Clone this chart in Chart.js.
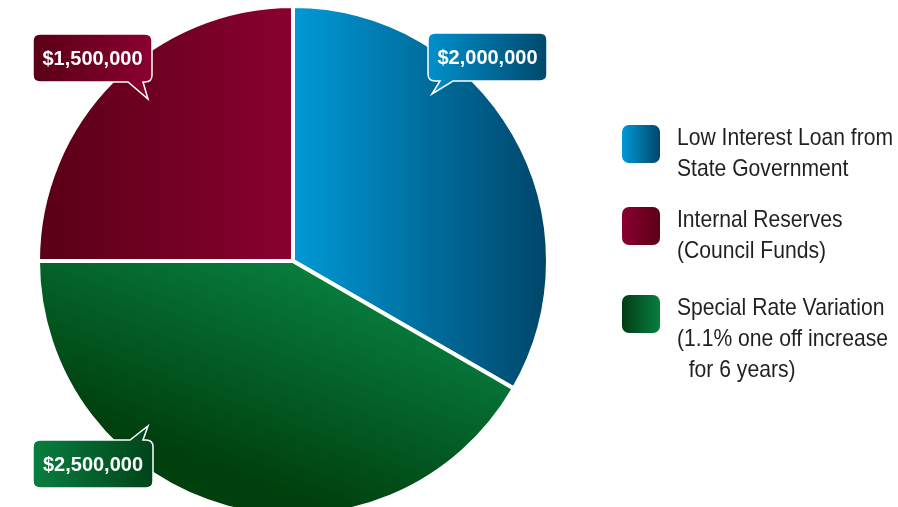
<!DOCTYPE html>
<html>
<head>
<meta charset="utf-8">
<script src="https://cdn.jsdelivr.net/npm/chart.js@4/dist/chart.umd.min.js"></script>
<style>
  body { margin: 0; background: #fff; overflow: hidden; }
  #wrap { position: relative; width: 898px; height: 522px; }
</style>
</head>
<body>
<div id="wrap"><canvas id="pie" width="898" height="522"></canvas></div>
<script>
// pie order, clockwise from 12 o'clock
const sources = ["Low Interest Loan from State Government", "Special Rate Variation (1.1% one off increase for 6 years)", "Internal Reserves (Council Funds)"]
const amounts = [2000000, 2500000, 1500000]
const valueLabels = ["$2,000,000", "$2,500,000", "$1,500,000"]

// legend reads blue, red, green
const legendOrder = [0, 2, 1]
const legendLines = [
    ["Low Interest Loan from", "State Government"],
    ["Special Rate Variation", "(1.1% one off increase", "  for 6 years)"],
    ["Internal Reserves", "(Council Funds)"]
]

// slice colours: [start, end]
const sliceColours = [["#0099d6", "#00466b"], ["#087f3f", "#00400f"], ["#5a0016", "#8a0030"]]
const swatchColours = [["#0099d6", "#00466b"], ["#003c12", "#087f3f"], ["#8a0030", "#5a0016"]]
const boxColours = [["#0090cc", "#00496c"], ["#087f3f", "#00441a"], ["#5a0016", "#8a0030"]]

function sliceGradient(context) {
    const chart = context.chart
    const area = chart.chartArea
    if (!area) return sliceColours[context.dataIndex][0]
    const c = chart.ctx
    const cx = (area.left + area.right) / 2
    const cy = (area.top + area.bottom) / 2
    const r = 253
    const cols = sliceColours[context.dataIndex]
    let g
    if (context.dataIndex == 0) g = c.createLinearGradient(cx, 0, cx + r, 0)
    else if (context.dataIndex == 2) g = c.createLinearGradient(cx - r, 0, cx, 0)
    else g = c.createLinearGradient(cx + 20, cy, cx - 60, cy + 210)
    g.addColorStop(0, cols[0])
    g.addColorStop(1, cols[1])
    return g
}

// callout boxes: box rect, tail base (x1,x2) on top/bottom edge, tail tip
const callouts = [
    { x: 428, y: 33, w: 119, h: 48, side: "bottom", t1: 440, t2: 453, tip: [432, 94] },
    { x: 33, y: 440, w: 120, h: 48, side: "top", t1: 130, t2: 143, tip: [148, 426] },
    { x: 33, y: 34, w: 119, h: 48, side: "bottom", t1: 128, t2: 143, tip: [148, 99] }
]

function calloutPath(c, b) {
    const r = 7
    const x = b.x, y = b.y, w = b.w, h = b.h
    c.beginPath()
    c.moveTo(x + r, y)
    if (b.side == "top") {
        c.lineTo(b.t1, y)
        c.lineTo(b.tip[0], b.tip[1])
        c.lineTo(b.t2, y)
    }
    c.lineTo(x + w - r, y)
    c.quadraticCurveTo(x + w, y, x + w, y + r)
    c.lineTo(x + w, y + h - r)
    c.quadraticCurveTo(x + w, y + h, x + w - r, y + h)
    if (b.side == "bottom") {
        c.lineTo(b.t2, y + h)
        c.lineTo(b.tip[0], b.tip[1])
        c.lineTo(b.t1, y + h)
    }
    c.lineTo(x + r, y + h)
    c.quadraticCurveTo(x, y + h, x, y + h - r)
    c.lineTo(x, y + r)
    c.quadraticCurveTo(x, y, x + r, y)
    c.closePath()
}

function roundRect(c, x, y, w, h, r) {
    c.beginPath()
    c.moveTo(x + r, y)
    c.arcTo(x + w, y, x + w, y + h, r)
    c.arcTo(x + w, y + h, x, y + h, r)
    c.arcTo(x, y + h, x, y, r)
    c.arcTo(x, y, x + w, y, r)
    c.closePath()
}

const decorations = {
    id: "decorations",
    afterDraw(chart) {
        const c = chart.ctx
        c.save()
        // callouts
        callouts.forEach((b, i) => {
            const g = c.createLinearGradient(b.x, 0, b.x + b.w, 0)
            g.addColorStop(0, boxColours[i][0])
            g.addColorStop(1, boxColours[i][1])
            calloutPath(c, b)
            c.fillStyle = g
            c.fill()
            c.lineWidth = 1.5
            c.strokeStyle = "#ffffff"
            c.stroke()
            c.fillStyle = "#ffffff"
            c.font = "bold 20px 'Liberation Sans', Arial, sans-serif"
            c.textAlign = "center"
            c.textBaseline = "middle"
            c.fillText(valueLabels[i], b.x + b.w / 2, b.y + b.h / 2 + 1)
        })
        // legend, squeezed to look like a narrow face
        const tops = [125, 207, 295]
        c.font = "24px 'Liberation Sans', Arial, sans-serif"
        const squeeze = 216 / c.measureText(legendLines[0][0]).width
        legendOrder.forEach((idx, k) => {
            const y = tops[k]
            const g = c.createLinearGradient(622, 0, 660, 0)
            g.addColorStop(0, swatchColours[idx][0])
            g.addColorStop(1, swatchColours[idx][1])
            roundRect(c, 622, y, 38, 38, 7)
            c.fillStyle = g
            c.fill()
            c.fillStyle = "#231f20"
            c.textAlign = "left"
            c.textBaseline = "alphabetic"
            legendLines[idx].forEach((line, j) => {
                c.save()
                c.translate(677, y + 20 + j * 31)
                c.scale(squeeze, 1)
                c.fillText(line, 0, 0)
                c.restore()
            })
        })
        c.restore()
    }
}

new Chart(document.getElementById("pie"), {
    type: "pie",
    data: {
        labels: sources,
        datasets: [{
            data: amounts,
            backgroundColor: sliceGradient,
            borderColor: "#ffffff",
            borderWidth: 4,
            radius: 255
        }]
    },
    options: {
        responsive: false,
        animation: false,
        layout: { padding: { left: 40, top: 8, right: 352, bottom: 8 } },
        plugins: {
            legend: { display: false },
            tooltip: { enabled: false }
        }
    },
    plugins: [decorations]
})
</script>
</body>
</html>
